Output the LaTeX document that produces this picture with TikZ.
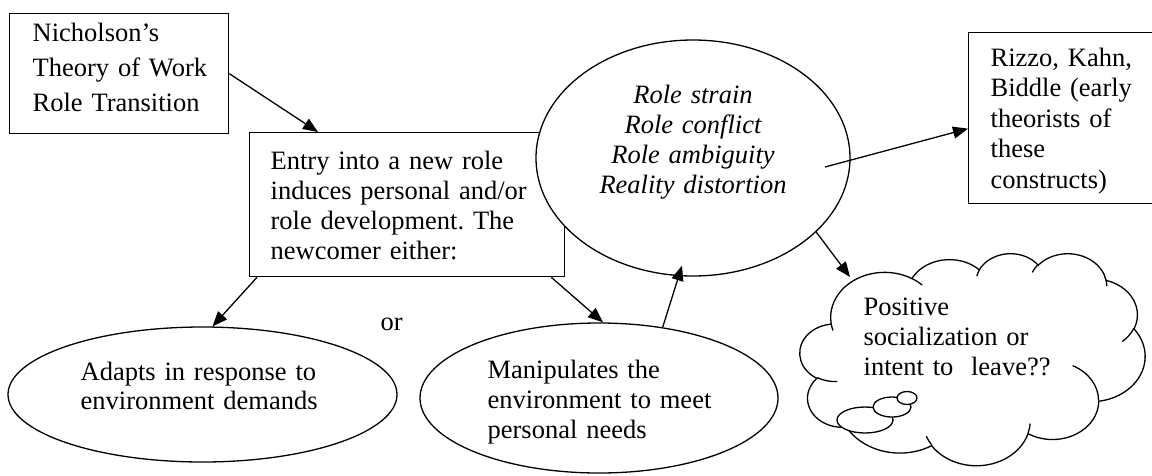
\documentclass[tikz,border=0pt]{standalone}
\usepackage{fontspec}
\setmainfont{Liberation Serif}
\usetikzlibrary{arrows.meta,shapes.geometric,calc}
\frenchspacing

% Elliptic arc whose start and sweep are given as visual angles
% (radii, start angle, sweep), converted to parametric angles.
\newcommand\warc[4]{%
  \pgfextra{%
    \pgfmathsetmacro\cloudAa{atan2((#1)*sin(#3),(#2)*cos(#3))}%
    \pgfmathsetmacro\cloudBb{atan2((#1)*sin((#3)+(#4)),(#2)*cos((#3)+(#4)))}%
    \pgfmathsetmacro\cloudDd{mod(\cloudBb-\cloudAa+720,360)}%
    \global\let\cloudS\cloudAa\global\let\cloudD\cloudDd}%
  arc[x radius=#1, y radius=#2, start angle=\cloudS, delta angle=\cloudD]}

\begin{document}
\begin{tikzpicture}[x=1pt,y=-1pt,line width=1.3pt,
  frame/.style={draw, rectangle, inner sep=0pt, anchor=north west, fill=white},
  oval/.style={draw, ellipse, inner sep=0pt, fill=white},
  txt/.style={anchor=base west, inner sep=0pt, text width=#1, align=left,
              font=\fontsize{26.5}{30}\selectfont},
  txt/.default=400pt,
  arr/.style={-{Triangle[length=15pt,width=12pt]}},
  bubble/.style={draw, ellipse, inner sep=0pt, fill=white}]

\useasboundingbox (0,0) rectangle (1152,475);

% boxes and ovals
\node[frame, minimum width=219pt, minimum height=120pt] (nich) at (9,13) {};
\node[frame, minimum width=315pt, minimum height=144pt] (entry) at (249,132) {};
\node[oval, minimum width=314pt, minimum height=236pt] (roles) at (693,158) {};
\node[frame, minimum width=188pt, minimum height=171pt] (rizzo) at (968,32) {};
\node[oval, minimum width=389pt, minimum height=135pt] (adapt) at (202.5,394.5) {};
\node[oval, minimum width=358pt, minimum height=150pt] (manip) at (599,398) {};

% texts
\node[txt, font=\fontsize{26.5}{35}\selectfont] (nichtxt) at (32,41)
  {Nicholson’s\\Theory of Work\\Role Transition};
\node[txt] (entrytxt) at (270,169)
  {Entry into a new role\\induces personal and/or\\role development. The\\newcomer either:};
\node[anchor=base, inner sep=0pt, text width=320pt, align=center,
      font=\fontsize{26.5}{30}\selectfont\itshape] (rolestxt) at (693,103)
  {Role strain\\Role conflict\\Role ambiguity\\Reality distortion};
\node[txt, font=\fontsize{26.5}{30.5}\selectfont] (rizzotxt) at (990,66)
  {Rizzo, Kahn,\\Biddle (early\\theorists of\\these\\constructs)};
\node[txt, font=\fontsize{26.5}{29}\selectfont] (adapttxt) at (80,380)
  {Adapts in response to\\environment demands};
\node[txt] (maniptxt) at (487,378)
  {Manipulates the\\environment to meet\\personal needs};
\node[txt] (ortxt) at (380,330) {or};

% thought cloud
\node[rectangle, inner sep=0pt, anchor=north west,
      minimum width=345pt, minimum height=212pt] (cf) at (800,253) {};
\begin{scope}[shift={(cf.north west)}, x=0.079861pt, y=-0.049074pt]
  \filldraw[fill=white] (390,1437)
    \warc{675.3}{919.0}{-190.487}{123.781}
    \warc{533.3}{726.7}{-144.102}{89.945}
    \warc{436.5}{594.5}{-145.808}{99.723}
    \warc{485.7}{659.5}{-130.986}{117.242}
    \warc{533.3}{727.3}{-78.709}{109.027}
    \warc{677.5}{922.0}{-46.267}{130.269}
    \warc{578.5}{786.7}{0.625}{114.033}
    \warc{675.2}{921.5}{22.452}{115.173}
    \warc{772.0}{1054.3}{66.243}{75.711}
    \warc{436.0}{591.8}{-274.942}{146.736}
    \warc{434.5}{594.5}{-246.829}{152.519} -- cycle;
  \draw (469.3,2617.7) \warc{434.5}{594.5}{86.742}{26.430}
        (692.8,3489.9) \warc{436.0}{591.8}{73.610}{11.447}
        (1647.8,3909.0) \warc{675.2}{921.5}{137.624}{14.081}
        (2882.7,3475.1) \warc{675.2}{921.5}{6.453}{15.998}
        (3412.9,2295.4) \warc{578.5}{786.7}{-70.292}{70.917}
        (4179.8,1535.4) \warc{533.3}{727.3}{30.318}{27.752}
        (3832.4,542.6) \warc{485.7}{659.5}{-13.744}{14.859}
        (2907.8,395.2) \warc{485.7}{659.5}{-149.181}{18.195}
        (2214.1,472.0) \warc{436.5}{594.5}{-163.494}{17.686}
        (1400.0,519.2) \warc{675.3}{919.0}{-66.707}{12.319}
        (412.7,1578.9) \warc{675.3}{919.0}{157.654}{11.858};
\end{scope}
\node[bubble, minimum width=56pt, minimum height=26pt] (b1) at (865,420) {};
\node[bubble, minimum width=38pt, minimum height=20pt] (b2) at (892,407) {};
\node[bubble, minimum width=20pt, minimum height=13pt] (b3) at (907,398) {};
\node[txt] (cloudtxt) at (863,315)
  {Positive\\socialization or\\intent to\ \ leave??};

% connectors
\draw[arr] (nich.east) -- ($(entry.north west)+(69,0)$);
\draw[arr] ($(entry.south west)+(8,0)$) -- ($(adapt.north)+(10,0)$);
\draw[arr] ($(entry.south east)+(-14,0)$) -- ($(manip.north)+(4,0)$);
\draw[arr] (manip.48) -- ($(roles.south)+(-11,-11)$);
\draw[arr] ($(roles.center)+(132,9)$) -- ($(rizzo.west)+(0,10.5)$);
\draw[arr] (roles.-31.2) -- ($(cf.north west)+(50,24)$);
\end{tikzpicture}
\end{document}
